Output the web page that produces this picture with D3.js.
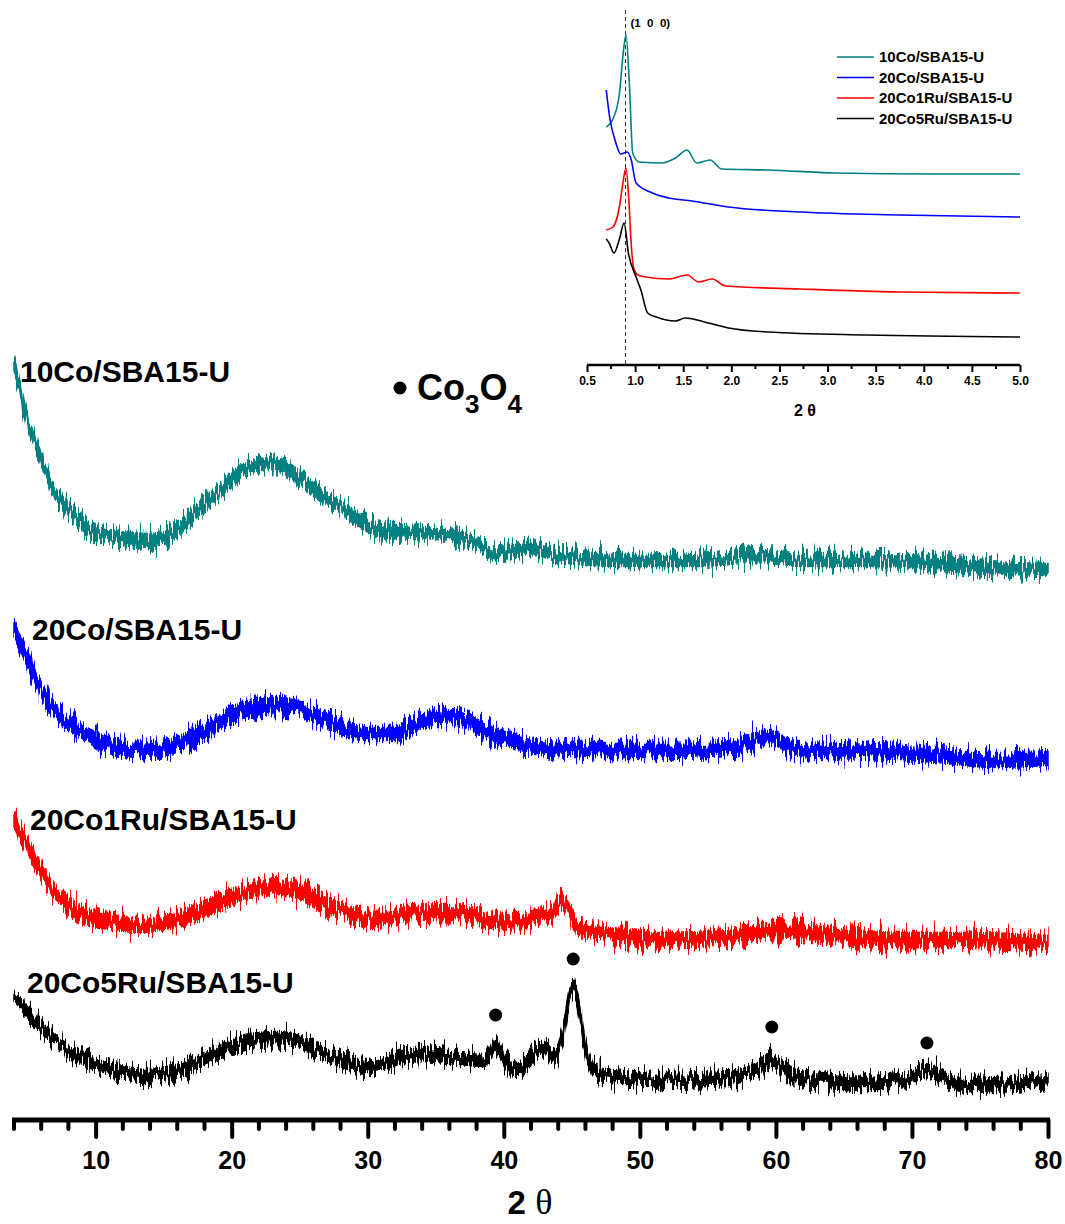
<!DOCTYPE html>
<html>
<head>
<meta charset="utf-8">
<script src="https://cdn.jsdelivr.net/npm/d3@7"></script>
<style>
  body { margin: 0; background: #fff; }
  text { font-family: "Liberation Sans", Arial, sans-serif; font-weight: bold; fill: #000; }
</style>
</head>
<body>
<div id="xrd"></div>
<script>
// main pattern: 2theta positions and intensities (a.u., offset per sample)
var teal2theta = [4, 4.4, 4.9, 5.5, 6.9, 8.1, 9.6, 11.9, 13.9, 15.7, 17.7, 19.2, 20.8, 22.8, 24.6, 26.3, 28.3, 30.9, 33.4, 36.7, 39.7, 42.5, 44, 48.9, 54, 59.1, 62, 66.9, 71, 74.5, 80];
var tealCounts = [735, 715, 683, 660, 610, 590, 570, 562, 560, 567, 593, 610, 630, 637, 627, 607, 590, 570, 568, 563, 547, 552, 544, 540, 540, 544, 540, 540, 538, 533, 530];

var blue2theta = [4, 5.1, 6.3, 8.1, 10.1, 13.2, 15.7, 18.2, 20.8, 23.3, 25.3, 27.4, 29.6, 32.2, 34.2, 36.5, 38.5, 41.3, 45.1, 51.5, 56.6, 59.4, 61.7, 66.9, 71.9, 75.8, 80];
var blueCounts = [470, 437, 403, 377, 360, 350, 355, 370, 390, 395, 390, 377, 367, 367, 380, 383, 370, 357, 350, 350, 352, 363, 350, 348, 345, 340, 342];

var red2theta = [4, 5.6, 6.9, 8.6, 10.6, 13.2, 15.7, 18.2, 20.8, 22.8, 24.6, 27.1, 30.4, 33.4, 36.5, 39.7, 42.5, 43.6, 44.2, 45.0, 45.4, 47.7, 51.5, 56.6, 59.7, 64.3, 69.4, 74.5, 80];
var redCounts = [280, 237, 210, 190, 180, 175, 180, 193, 207, 213, 210, 195, 180, 187, 188, 177, 182, 188, 200, 182, 173, 167, 160, 163, 170, 165, 160, 160, 157];

var black2theta = [4, 5.6, 6.9, 8.6, 10.6, 13.7, 16.2, 18.7, 21.3, 23.3, 25.3, 27.4, 29.9, 33.4, 36.0, 38.5, 39.0, 39.4, 39.8, 41.0, 41.8, 42.8, 43.8, 44.4, 45.0, 45.5, 45.9, 46.6, 47.9, 51.5, 56.6, 58.5, 59.7, 60.6, 61.7, 66.9, 69.5, 70.9, 72.5, 74.0, 80];
var blackCounts = [103, 80, 60, 45, 33, 25, 30, 47, 60, 62, 57, 43, 33, 45, 43, 40, 45, 57, 45, 30, 38, 53, 43, 70, 113, 95, 60, 30, 23, 20, 22, 30, 40, 32, 23, 17, 20, 30, 22, 15, 20];

// half width of each pattern's noise band (a.u.)
var noiseSpread = [6.5, 7.5, 7.5, 6.5];

// Co3O4 reflections
var co3o4Angles = [39.4, 45.1, 59.7, 71.1];
var co3o4Heights = [85, 141, 73, 57];

// small angle inset
var tealLow2theta = [0.70, 0.774, 0.838, 0.872, 0.905, 0.94, 0.975, 1.04, 1.28, 1.42, 1.54, 1.64, 1.78, 1.90, 2.38, 3.07, 4.1, 5.0];
var tealLowCounts = [238, 247, 272, 308, 330, 282, 212, 203, 202, 207, 215, 202, 205, 196, 195, 192, 191, 191];

var blueLow2theta = [0.70, 0.735, 0.80, 0.85, 0.92, 0.96, 1.01, 1.18, 1.35, 1.59, 1.97, 2.72, 3.75, 5.0];
var blueLowCounts = [275, 248, 222, 211, 213, 205, 182, 172, 167, 164, 158, 153, 150, 148];

var redLow2theta = [0.70, 0.77, 0.84, 0.87, 0.905, 0.935, 0.96, 0.985, 1.03, 1.11, 1.35, 1.54, 1.66, 1.80, 1.94, 2.72, 3.75, 5.0];
var redLowCounts = [135, 138, 160, 180, 197, 165, 120, 97, 90, 88, 86, 90, 83, 86, 79, 76, 73, 72];

var blackLow2theta = [0.70, 0.73, 0.78, 0.84, 0.885, 0.93, 1.01, 1.06, 1.13, 1.22, 1.42, 1.52, 1.76, 1.97, 2.38, 3.41, 5.0];
var blackLowCounts = [126, 122, 112, 127, 142, 112, 88, 75, 52, 48, 44, 47, 42, 37, 33, 30, 28];

var sampleNames = ["10Co/SBA15-U", "20Co/SBA15-U", "20Co1Ru/SBA15-U", "20Co5Ru/SBA15-U"];
var sampleColors = ["#008080", "#0000ff", "#ff0000", "#000000"];

var mainTicks = [10, 20, 30, 40, 50, 60, 70, 80];
var insetTicks = [0.5, 1.0, 1.5, 2.0, 2.5, 3.0, 3.5, 4.0, 4.5, 5.0];

var width = 1065, height = 1224;

var svg = d3.select("#xrd")
    .append("svg")
    .attr("width", width)
    .attr("height", height);

// grain filter so the bands look like a counting trace, only moves pixels up/down
var grain = svg.append("defs").append("filter")
    .attr("id", "grain")
    .attr("x", "-1%").attr("y", "-30%")
    .attr("width", "102%").attr("height", "160%")
    .attr("color-interpolation-filters", "sRGB");
grain.append("feTurbulence")
    .attr("type", "fractalNoise")
    .attr("baseFrequency", "0.5 0.03")
    .attr("numOctaves", 2)
    .attr("seed", 7)
    .attr("result", "n");
grain.append("feColorMatrix")
    .attr("in", "n")
    .attr("type", "matrix")
    .attr("values", "0 0 0 0 0.5  0 1 0 0 0  0 0 0 0 0  0 0 0 0 1")
    .attr("result", "m");
grain.append("feDisplacementMap")
    .attr("in", "SourceGraphic")
    .attr("in2", "m")
    .attr("scale", 32)
    .attr("xChannelSelector", "R")
    .attr("yChannelSelector", "G");

// ---------- main pattern ----------
var x = d3.scaleLinear().domain([4, 80]).range([14, 1048]);
var y = d3.scaleLinear().domain([0, 760]).range([1100, 340]);

var mainSets = [
  [teal2theta, tealCounts],
  [blue2theta, blueCounts],
  [red2theta, redCounts],
  [black2theta, blackCounts]
];

mainSets.forEach(function(set, i) {
  var pts = set[0].map(function(a, j) { return { a: a, c: set[1][j] }; });
  var band = d3.area()
      .curve(d3.curveMonotoneX)
      .x(function(d) { return x(d.a); })
      .y0(function(d) { return y(d.c - noiseSpread[i]); })
      .y1(function(d) { return y(d.c + noiseSpread[i]); });
  svg.append("path")
      .datum(pts)
      .attr("d", band)
      .attr("fill", sampleColors[i])
      .attr("stroke", sampleColors[i])
      .attr("stroke-width", 1.5)
      .attr("filter", "url(#grain)");
});

// sample names
var nameX = [20, 32, 30, 27];
var nameCounts = [718, 460, 270, 107];
svg.selectAll(".sampleName")
    .data(sampleNames)
    .enter()
    .append("text")
    .attr("class", "sampleName")
    .attr("x", function(d, i) { return nameX[i]; })
    .attr("y", function(d, i) { return y(nameCounts[i]); })
    .attr("font-size", 30)
    .text(function(d) { return d; });

// Co3O4 markers
svg.selectAll(".co3o4")
    .data(co3o4Angles)
    .enter()
    .append("circle")
    .attr("class", "co3o4")
    .attr("cx", function(d) { return x(d); })
    .attr("cy", function(d, i) { return y(co3o4Heights[i]); })
    .attr("r", 6.5)
    .attr("fill", "#000");

svg.append("circle").attr("cx", 400).attr("cy", 388).attr("r", 6.5).attr("fill", "#000");
var co = svg.append("text").attr("x", 417).attr("y", 400).attr("font-size", 36);
co.append("tspan").text("Co");
co.append("tspan").attr("font-size", 26).attr("dy", 13).text("3");
co.append("tspan").attr("dy", -13).text("O");
co.append("tspan").attr("font-size", 26).attr("dy", 13).text("4");

// bottom axis, minor ticks every 2 degrees
var minor = d3.range(4, 81, 2).filter(function(v) { return v % 10 != 0; });
var axisG = svg.append("g").attr("transform", "translate(0,1120)");
axisG.append("line")
    .attr("x1", x(4) - 2).attr("x2", x(80) + 2)
    .attr("stroke", "#000").attr("stroke-width", 5);
axisG.selectAll(".minor")
    .data(minor)
    .enter()
    .append("line")
    .attr("x1", function(d) { return x(d); })
    .attr("x2", function(d) { return x(d); })
    .attr("y1", 0).attr("y2", 9)
    .attr("stroke", "#000").attr("stroke-width", 4).attr("stroke-linecap", "round");
axisG.call(d3.axisBottom(x).tickValues(mainTicks).tickSize(17).tickSizeOuter(0).tickPadding(14))
    .call(function(g) { g.select(".domain").remove(); })
    .call(function(g) {
      g.selectAll(".tick line").attr("stroke", "#000").attr("stroke-width", 4).attr("stroke-linecap", "round");
      g.selectAll(".tick text").attr("font-size", 25).attr("font-family", "Liberation Sans, Arial, sans-serif").attr("font-weight", "bold").attr("fill", "#000");
    });

var xl = svg.append("text").attr("x", 530).attr("y", 1214).attr("text-anchor", "middle").attr("font-size", 33);
xl.append("tspan").text("2 ");
xl.append("tspan").attr("font-family", "Liberation Serif, Times New Roman, serif").attr("font-weight", "normal").attr("font-size", 36).text("θ");

// ---------- inset ----------
var xi = d3.scaleLinear().domain([0.5, 5.0]).range([587, 1020]);
var yi = d3.scaleLinear().domain([0, 345]).range([365, 20]);

var insetSets = [
  [tealLow2theta, tealLowCounts],
  [blueLow2theta, blueLowCounts],
  [redLow2theta, redLowCounts],
  [blackLow2theta, blackLowCounts]
];

// dashed (1 0 0) line
svg.append("line")
    .attr("x1", xi(0.9)).attr("x2", xi(0.9))
    .attr("y1", 10).attr("y2", 365)
    .attr("stroke", "#333").attr("stroke-width", 1).attr("stroke-dasharray", "4,3");
svg.append("text").attr("x", xi(0.9) + 5).attr("y", 27).attr("font-size", 11.5)
    .attr("xml:space", "preserve").text("(1  0  0)");

insetSets.forEach(function(set, i) {
  var pts = set[0].map(function(a, j) { return { a: a, c: set[1][j] }; });
  var line = d3.line()
      .curve(d3.curveMonotoneX)
      .x(function(d) { return xi(d.a); })
      .y(function(d) { return yi(d.c); });
  svg.append("path")
      .datum(pts)
      .attr("d", line)
      .attr("fill", "none")
      .attr("stroke", sampleColors[i])
      .attr("stroke-width", 1.6);
});

// inset axis
var insetMinor = d3.range(0.75, 5.0, 0.5);
var insetAxis = svg.append("g").attr("transform", "translate(0,365)");
insetAxis.append("line")
    .attr("x1", xi(0.5)).attr("x2", xi(5.0))
    .attr("stroke", "#000").attr("stroke-width", 2.5);
insetAxis.selectAll(".iminor")
    .data(insetMinor)
    .enter()
    .append("line")
    .attr("x1", function(d) { return xi(d); })
    .attr("x2", function(d) { return xi(d); })
    .attr("y1", 0).attr("y2", 4)
    .attr("stroke", "#000").attr("stroke-width", 2);
insetAxis.call(d3.axisBottom(xi).tickValues(insetTicks).tickSize(7).tickSizeOuter(0).tickPadding(4).tickFormat(d3.format(".1f")))
    .call(function(g) { g.select(".domain").remove(); })
    .call(function(g) {
      g.selectAll(".tick line").attr("stroke", "#000").attr("stroke-width", 2);
      g.selectAll(".tick text").attr("font-size", 12).attr("font-family", "Liberation Sans, Arial, sans-serif").attr("font-weight", "bold").attr("fill", "#000");
    });

var xil = svg.append("text").attr("x", 805).attr("y", 416).attr("text-anchor", "middle").attr("font-size", 16);
xil.append("tspan").text("2 θ");

// inset legend
var legend = svg.selectAll(".legendRow")
    .data(sampleNames)
    .enter()
    .append("g")
    .attr("class", "legendRow")
    .attr("transform", function(d, i) { return "translate(837," + (57 + i * 20.5) + ")"; });
legend.append("line")
    .attr("x1", 0).attr("x2", 37)
    .attr("stroke", function(d, i) { return sampleColors[i]; })
    .attr("stroke-width", 1.6);
legend.append("text")
    .attr("x", 42).attr("y", 5)
    .attr("font-size", 15)
    .text(function(d) { return d; });
</script>
</body>
</html>
